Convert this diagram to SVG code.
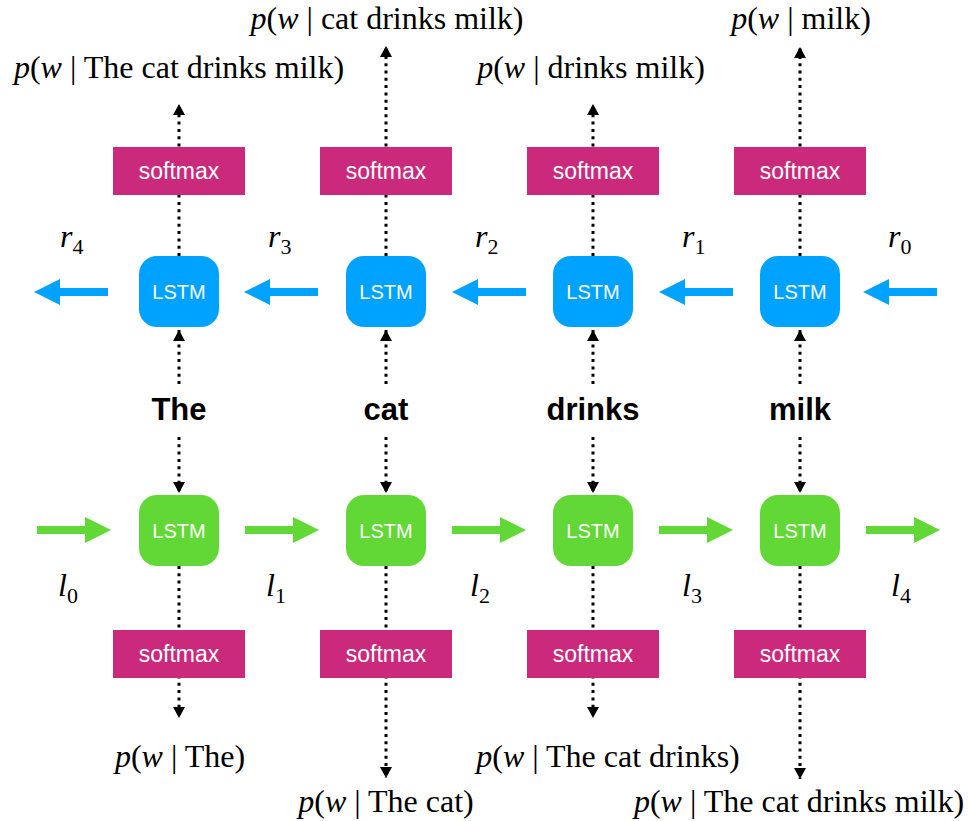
<svg xmlns="http://www.w3.org/2000/svg" width="968" height="821" viewBox="0 0 968 821">
  <style>
    .lstm-b { fill: #00A2FF; }
    .lstm-g { fill: #61D836; }
    .soft { fill: #CB297B; }
    .box-label { font-family: "Liberation Sans", Arial, sans-serif; fill: #fff; text-anchor: middle; }
    .lstm-label { font-size: 20px; }
    .soft-label { font-size: 23px; }
    .word { font-family: "Liberation Sans", Arial, sans-serif; font-weight: bold; font-size: 31px; fill: #000; text-anchor: middle; }
    .math { font-family: "Liberation Serif", "Times New Roman", serif; font-size: 32px; fill: #000; }
    .mid { text-anchor: middle; }
    .it { font-style: italic; }
    .sub { font-size: 22px; font-style: normal; }
    .dot { stroke: #000; stroke-width: 3; stroke-dasharray: 3 4.3; fill: none; }
    .arrow-b { fill: #00A2FF; }
    .arrow-g { fill: #61D836; }
  </style>
  <defs>
    <marker id="tip" markerUnits="userSpaceOnUse" markerWidth="12" markerHeight="12" refX="11" refY="6" orient="auto">
      <path d="M0,0 L11,6 L0,12 Z" fill="#000"/>
    </marker>
    <!-- fat horizontal arrows, pointing right; the left ones are mirrored -->
    <path id="fat-right" d="M0,-4 L48,-4 L48,-13 L74,0 L48,13 L48,4 L0,4 Z"/>
  </defs>

  <!-- connectors: dotted vertical flows and recurrent arrows -->
  <g id="connectors">
    <!-- upward: LSTM (right-to-left) to softmax to output -->
    <path class="dot" d="M179,256 V104" marker-end="url(#tip)"/>
    <path class="dot" d="M386,256 V46" marker-end="url(#tip)"/>
    <path class="dot" d="M593,256 V104" marker-end="url(#tip)"/>
    <path class="dot" d="M800,256 V47" marker-end="url(#tip)"/>
    <!-- words up into the backward LSTMs -->
    <path class="dot" d="M179,384 V330" marker-end="url(#tip)"/>
    <path class="dot" d="M386,384 V330" marker-end="url(#tip)"/>
    <path class="dot" d="M593,384 V330" marker-end="url(#tip)"/>
    <path class="dot" d="M800,384 V330" marker-end="url(#tip)"/>
    <!-- words down into the forward LSTMs -->
    <path class="dot" d="M179,437 V493" marker-end="url(#tip)"/>
    <path class="dot" d="M386,437 V493" marker-end="url(#tip)"/>
    <path class="dot" d="M593,437 V493" marker-end="url(#tip)"/>
    <path class="dot" d="M800,437 V493" marker-end="url(#tip)"/>
    <!-- downward: forward LSTM to softmax to output -->
    <path class="dot" d="M179,566 V718" marker-end="url(#tip)"/>
    <path class="dot" d="M386,566 V778" marker-end="url(#tip)"/>
    <path class="dot" d="M593,566 V718" marker-end="url(#tip)"/>
    <path class="dot" d="M800,566 V779" marker-end="url(#tip)"/>

    <!-- backward recurrence (blue, pointing left) -->
    <use href="#fat-right" class="arrow-b" transform="translate(108,292) scale(-1,1)"/>
    <use href="#fat-right" class="arrow-b" transform="translate(318,292) scale(-1,1)"/>
    <use href="#fat-right" class="arrow-b" transform="translate(526,292) scale(-1,1)"/>
    <use href="#fat-right" class="arrow-b" transform="translate(733,292) scale(-1,1)"/>
    <use href="#fat-right" class="arrow-b" transform="translate(937,292) scale(-1,1)"/>

    <!-- forward recurrence (green, pointing right) -->
    <use href="#fat-right" class="arrow-g" transform="translate(37,530)"/>
    <use href="#fat-right" class="arrow-g" transform="translate(245,530)"/>
    <use href="#fat-right" class="arrow-g" transform="translate(452,530)"/>
    <use href="#fat-right" class="arrow-g" transform="translate(659,530)"/>
    <use href="#fat-right" class="arrow-g" transform="translate(866,530)"/>
  </g>

  <!-- top softmax layer -->
  <g id="softmax-top-1"><rect class="soft" x="113" y="147" width="132" height="48"/><text class="box-label soft-label" x="179" y="179">softmax</text></g>
  <g id="softmax-top-2"><rect class="soft" x="320" y="147" width="132" height="48"/><text class="box-label soft-label" x="386" y="179">softmax</text></g>
  <g id="softmax-top-3"><rect class="soft" x="527" y="147" width="132" height="48"/><text class="box-label soft-label" x="593" y="179">softmax</text></g>
  <g id="softmax-top-4"><rect class="soft" x="734" y="147" width="132" height="48"/><text class="box-label soft-label" x="800" y="179">softmax</text></g>

  <!-- backward LSTMs -->
  <g id="lstm-back-1"><rect class="lstm-b" x="139" y="256" width="80" height="71" rx="18"/><text class="box-label lstm-label" x="179" y="298.5">LSTM</text></g>
  <g id="lstm-back-2"><rect class="lstm-b" x="346" y="256" width="80" height="71" rx="18"/><text class="box-label lstm-label" x="386" y="298.5">LSTM</text></g>
  <g id="lstm-back-3"><rect class="lstm-b" x="553" y="256" width="80" height="71" rx="18"/><text class="box-label lstm-label" x="593" y="298.5">LSTM</text></g>
  <g id="lstm-back-4"><rect class="lstm-b" x="760" y="256" width="80" height="71" rx="18"/><text class="box-label lstm-label" x="800" y="298.5">LSTM</text></g>

  <!-- input words -->
  <g id="word-1"><text class="word" x="179" y="420">The</text></g>
  <g id="word-2"><text class="word" x="386" y="420">cat</text></g>
  <g id="word-3"><text class="word" x="593" y="420">drinks</text></g>
  <g id="word-4"><text class="word" x="800" y="420">milk</text></g>

  <!-- forward LSTMs -->
  <g id="lstm-fwd-1"><rect class="lstm-g" x="139" y="495" width="80" height="71" rx="18"/><text class="box-label lstm-label" x="179" y="537.5">LSTM</text></g>
  <g id="lstm-fwd-2"><rect class="lstm-g" x="346" y="495" width="80" height="71" rx="18"/><text class="box-label lstm-label" x="386" y="537.5">LSTM</text></g>
  <g id="lstm-fwd-3"><rect class="lstm-g" x="553" y="495" width="80" height="71" rx="18"/><text class="box-label lstm-label" x="593" y="537.5">LSTM</text></g>
  <g id="lstm-fwd-4"><rect class="lstm-g" x="760" y="495" width="80" height="71" rx="18"/><text class="box-label lstm-label" x="800" y="537.5">LSTM</text></g>

  <!-- bottom softmax layer -->
  <g id="softmax-bot-1"><rect class="soft" x="113" y="630" width="132" height="48"/><text class="box-label soft-label" x="179" y="662">softmax</text></g>
  <g id="softmax-bot-2"><rect class="soft" x="320" y="630" width="132" height="48"/><text class="box-label soft-label" x="386" y="662">softmax</text></g>
  <g id="softmax-bot-3"><rect class="soft" x="527" y="630" width="132" height="48"/><text class="box-label soft-label" x="593" y="662">softmax</text></g>
  <g id="softmax-bot-4"><rect class="soft" x="734" y="630" width="132" height="48"/><text class="box-label soft-label" x="800" y="662">softmax</text></g>

  <!-- hidden state labels -->
  <g id="r-labels" class="math">
    <text x="60" y="247"><tspan class="it">r</tspan><tspan class="sub" dy="7">4</tspan></text>
    <text x="268" y="247"><tspan class="it">r</tspan><tspan class="sub" dy="7">3</tspan></text>
    <text x="475" y="247"><tspan class="it">r</tspan><tspan class="sub" dy="7">2</tspan></text>
    <text x="682" y="247"><tspan class="it">r</tspan><tspan class="sub" dy="7">1</tspan></text>
    <text x="888" y="247"><tspan class="it">r</tspan><tspan class="sub" dy="7">0</tspan></text>
  </g>
  <g id="l-labels" class="math">
    <text x="58" y="596"><tspan class="it">l</tspan><tspan class="sub" dy="7">0</tspan></text>
    <text x="266" y="596"><tspan class="it">l</tspan><tspan class="sub" dy="7">1</tspan></text>
    <text x="470" y="596"><tspan class="it">l</tspan><tspan class="sub" dy="7">2</tspan></text>
    <text x="682" y="596"><tspan class="it">l</tspan><tspan class="sub" dy="7">3</tspan></text>
    <text x="891" y="596"><tspan class="it">l</tspan><tspan class="sub" dy="7">4</tspan></text>
  </g>

  <!-- output distributions -->
  <g id="out-top-1"><text class="math mid" x="179" y="78"><tspan class="it">p</tspan>(<tspan class="it">w</tspan> | The cat drinks milk)</text></g>
  <g id="out-top-2"><text class="math mid" x="387" y="29"><tspan class="it">p</tspan>(<tspan class="it">w</tspan> | cat drinks milk)</text></g>
  <g id="out-top-3"><text class="math mid" x="591" y="78"><tspan class="it">p</tspan>(<tspan class="it">w</tspan> | drinks milk)</text></g>
  <g id="out-top-4"><text class="math mid" x="801" y="29"><tspan class="it">p</tspan>(<tspan class="it">w</tspan> | milk)</text></g>
  <g id="out-bot-1"><text class="math mid" x="180" y="767"><tspan class="it">p</tspan>(<tspan class="it">w</tspan> | The)</text></g>
  <g id="out-bot-2"><text class="math mid" x="386" y="812"><tspan class="it">p</tspan>(<tspan class="it">w</tspan> | The cat)</text></g>
  <g id="out-bot-3"><text class="math mid" x="608" y="767"><tspan class="it">p</tspan>(<tspan class="it">w</tspan> | The cat drinks)</text></g>
  <g id="out-bot-4"><text class="math mid" x="799" y="812"><tspan class="it">p</tspan>(<tspan class="it">w</tspan> | The cat drinks milk)</text></g>
</svg>
